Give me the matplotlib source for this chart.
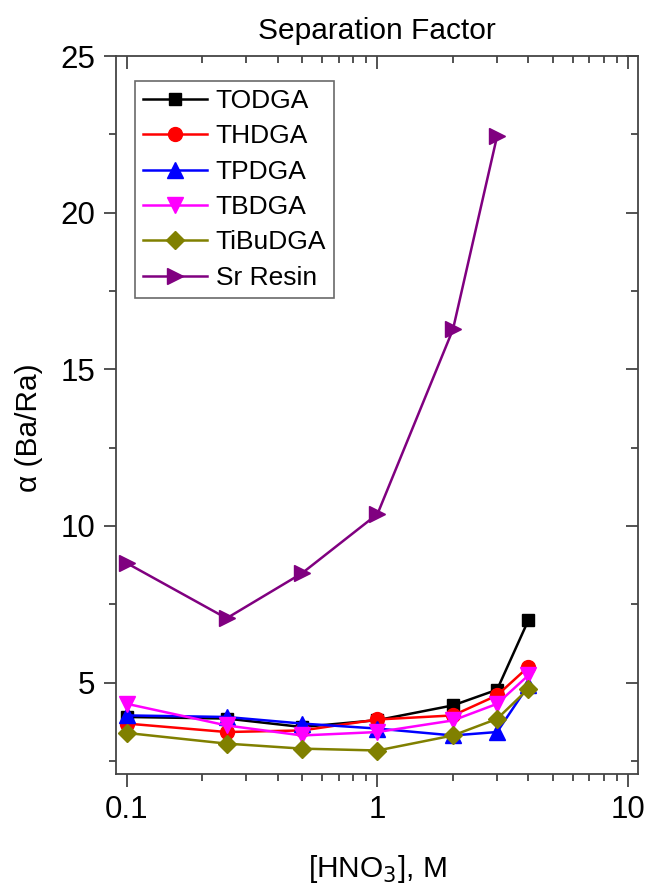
import matplotlib
matplotlib.use("Agg")
import matplotlib.pyplot as plt
from matplotlib.ticker import FixedLocator, NullFormatter, LogLocator

plt.rcParams['font.family'] = ['Liberation Sans', 'DejaVu Sans']

hno3 = [0.1, 0.25, 0.5, 1, 2, 3, 4]
hno3_sr = [0.1, 0.25, 0.5, 1, 2, 3]
todga = [3.90, 3.85, 3.58, 3.80, 4.27, 4.77, 6.99]
thdga = [3.69, 3.42, 3.47, 3.82, 3.95, 4.59, 5.50]
tpdga = [3.95, 3.90, 3.69, 3.53, 3.31, 3.42, 4.91]
tbdga = [4.32, 3.63, 3.31, 3.42, 3.79, 4.32, 5.23]
tibudga = [3.39, 3.05, 2.89, 2.83, 3.31, 3.84, 4.80]
sr_resin = [8.81, 7.05, 8.49, 10.38, 16.27, 22.44]

series = [
    ("TODGA", hno3, todga, "black", "s", 9),
    ("THDGA", hno3, thdga, "red", "o", 10),
    ("TPDGA", hno3, tpdga, "blue", "^", 11),
    ("TBDGA", hno3, tbdga, "magenta", "v", 11),
    ("TiBuDGA", hno3, tibudga, "#808000", "D", 9.5),
    ("Sr Resin", hno3_sr, sr_resin, "#800080", ">", 12),
]

fig = plt.figure(figsize=(6.48, 8.88), dpi=100)
ax = fig.add_axes([116/648, 1-774/888, (638-116)/648, (774-56)/888])

for name, x, y, c, m, ms in series:
    ax.plot(x, y, color=c, marker=m, markersize=ms, linewidth=1.8, label=name)

ax.set_xscale('log')
ax.set_xlim(0.0905, 10.95)
ax.set_ylim(2.08, 25)
ax.set_xticks([0.1, 1, 10])
ax.set_xticklabels(["0.1", "1", "10"])
ax.xaxis.set_minor_locator(LogLocator(base=10, subs=range(2, 10), numticks=20))
ax.xaxis.set_minor_formatter(NullFormatter())
ax.set_yticks([5, 10, 15, 20, 25])
ax.yaxis.set_minor_locator(FixedLocator([2.5, 7.5, 12.5, 17.5, 22.5]))

for sp in ax.spines.values():
    sp.set_color("#444444")
    sp.set_linewidth(1.3)

ax.tick_params(axis='both', which='major', length=9, width=1.3, color="#444444",
               labelsize=22.5, direction='out', pad=6)
ax.tick_params(axis='both', which='minor', length=5, width=1.3, color="#444444", direction='out')

# mirrored inward ticks on top and right
axt = ax.secondary_xaxis('top')
axt.set_xticks([0.1, 1, 10])
axt.xaxis.set_minor_locator(LogLocator(base=10, subs=range(2, 10), numticks=20))
axt.xaxis.set_minor_formatter(NullFormatter())
axt.tick_params(which='major', direction='in', length=9, width=1.3, color="#444444", labeltop=False)
axt.tick_params(which='minor', direction='in', length=5, width=1.3, color="#444444")
axt.spines['top'].set_visible(False)
axr = ax.secondary_yaxis('right')
axr.set_yticks([5, 10, 15, 20, 25])
axr.yaxis.set_minor_locator(FixedLocator([2.5, 7.5, 12.5, 17.5, 22.5]))
axr.tick_params(which='major', direction='in', length=9, width=1.3, color="#444444", labelright=False)
axr.tick_params(which='minor', direction='in', length=5, width=1.3, color="#444444")
axr.spines['right'].set_visible(False)

ax.set_title("Separation Factor", fontsize=21.5, pad=12)
ax.set_xlabel("[HNO$_3$], M", fontsize=21.5, labelpad=20)
ax.set_ylabel("α (Ba/Ra)", fontsize=21.5)
ax.yaxis.set_label_coords(-0.14, 0.483)

leg = ax.legend(loc='upper left', bbox_to_anchor=(0.037, 0.965), fontsize=19,
                frameon=True, fancybox=False, edgecolor="#444444", handlelength=2.4,
                handletextpad=0.35, borderpad=0.3, labelspacing=0.43, borderaxespad=0)
leg.get_frame().set_linewidth(1.2)

fig.savefig("out.png", dpi=100)
